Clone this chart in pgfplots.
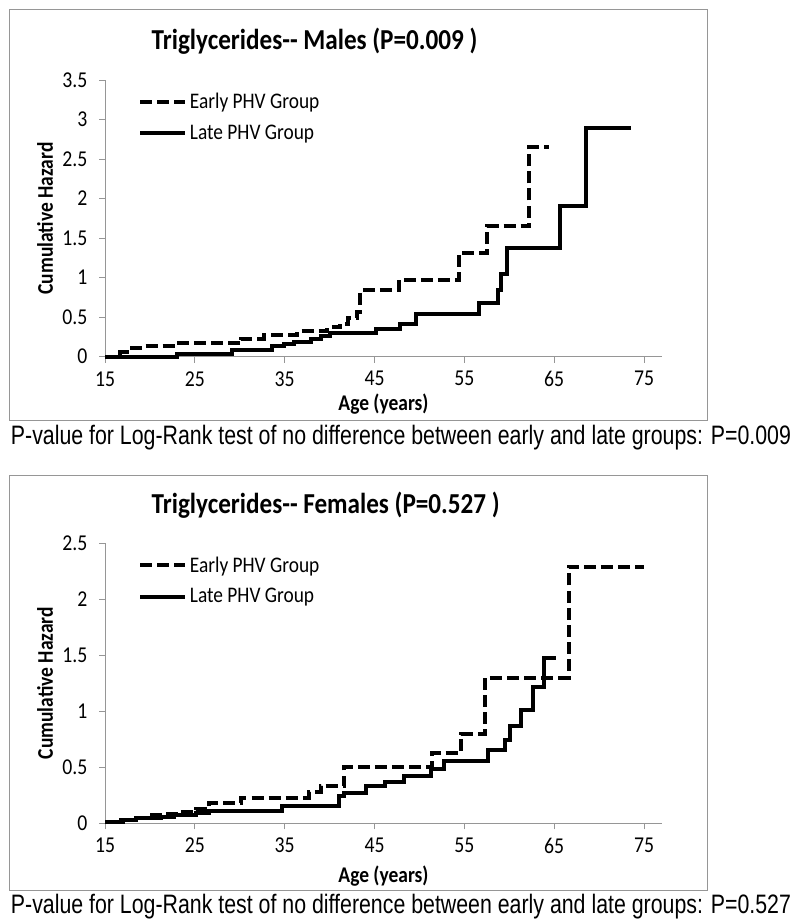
\documentclass[border=0pt]{standalone}
\usepackage{pgfplots}
\pgfplotsset{compat=1.18}
\usepackage{fontspec}
\setmainfont{Carlito}[FakeStretch=0.87]
\newfontfamily\arial{Liberation Sans}[FakeStretch=0.8]

\newdimen\px \px=0.75pt
\definecolor{axgray}{RGB}{150,150,150}
\definecolor{boxgray}{RGB}{150,150,150}

\pgfplotsset{
  early/.style={black, line width=3pt, const plot, mark=none, dash pattern=on 9pt off 3.8pt},
  late/.style={black, line width=3pt, const plot, mark=none},
  khaxis/.style={
    scale only axis, width=557\px, anchor=south west,
    xmin=15, xmax=77, ymin=0, clip=false,
    xtick={15,25,...,75},
    axis x line*=bottom, axis y line*=left,
    axis line style={axgray, line width=1\px, -},
    tick align=outside, major tick length=6\px,
    tick style={axgray, line width=1\px},
    ticklabel style={font=\fontsize{17}{20}\selectfont},
    xticklabel style={yshift=-4\px},
    yticklabel style={xshift=-7\px},
    /pgf/number format/assume math mode=true,
    xlabel={Age (years)},
    ylabel={Cumulative Hazard},
    label style={font=\bfseries\fontsize{16.8}{19}\selectfont},
    ylabel style={at={(axis description cs:-0.1077,0.5)}, anchor=center},
    legend style={draw=none, fill=none, font=\fontsize{16.7}{19}\selectfont,
      anchor=west, row sep=9\px},
    legend cell align=left,
    legend image code/.code={\draw[##1] (0pt,0pt) -- (45\px,0pt);},
  },
}

\begin{document}
\begin{tikzpicture}
\path[use as bounding box] (0,0) rectangle (800\px,-924\px);
\draw[boxgray, line width=1\px] (9\px,-10\px) rectangle (707\px,-420\px);
\draw[boxgray, line width=1\px] (9\px,-475\px) rectangle (707\px,-890\px);

% Males
\begin{axis}[khaxis, at={(105\px,-356.7\px)}, height=276.7\px,
  ymax=3.5, ytick={0,0.5,...,3.5},
  xlabel style={at={(axis description cs:0.5,-0.17)}, anchor=center},
  legend style={at={(axis description cs:0.052,0.865)}}]
\addplot[early] coordinates {(15,0) (16.7,0.06) (17.8,0.11) (19.5,0.135) (23.0,0.17)
  (30.1,0.23) (32.7,0.27) (36.4,0.32) (39.7,0.37) (41.2,0.42) (42.0,0.49) (43.1,0.57)
  (43.4,0.84) (47.7,0.97) (54.4,1.31) (57.5,1.65) (62.2,2.65) (64.4,2.65)};
\addplot[late] coordinates {(15,0) (23.0,0.03) (29.1,0.085) (33.6,0.13) (34.9,0.16)
  (36.0,0.19) (37.9,0.23) (39.0,0.26) (40.1,0.30) (45.2,0.35) (47.8,0.41) (49.6,0.54)
  (56.6,0.675) (58.8,0.84) (59.1,1.05) (59.8,1.38) (65.7,1.90) (68.5,2.89) (73.6,2.89)};
\legend{Early PHV Group, Late PHV Group}
\end{axis}

% Females
\begin{axis}[khaxis, at={(105\px,-823.3\px)}, height=280.3\px,
  ymax=2.5, ytick={0,0.5,...,2.5},
  xlabel style={at={(axis description cs:0.5,-0.19)}, anchor=center},
  legend style={at={(axis description cs:0.052,0.865)}}]
\addplot[early] coordinates {(15,0.015) (16.8,0.03) (18.3,0.045) (19.9,0.07) (22.0,0.08)
  (23.4,0.10) (25.1,0.13) (26.6,0.18) (30.1,0.23) (37.7,0.275) (39.0,0.33) (41.6,0.50)
  (51.4,0.63) (54.6,0.80) (57.3,1.30) (66.6,2.29) (75.0,2.29)};
\addplot[late] coordinates {(15,0.015) (17.0,0.03) (18.4,0.045) (21.2,0.06) (22.7,0.077)
  (25.1,0.09) (26.6,0.11) (34.7,0.15) (41.0,0.24) (41.6,0.27) (44.0,0.33) (46.2,0.37)
  (48.3,0.42) (51.3,0.48) (52.7,0.56) (57.6,0.65) (59.5,0.74) (60.1,0.87) (61.3,1.01)
  (62.6,1.22) (63.9,1.47) (65.2,1.47)};
\legend{Early PHV Group, Late PHV Group}
\end{axis}

\node[anchor=west, font=\bfseries\fontsize{21.7}{25}\selectfont] at (147\px,-41\px)
  {Triglycerides-{}- Males (P=0.009 )};
\node[anchor=west, font=\bfseries\fontsize{21.7}{25}\selectfont] at (147\px,-505\px)
  {Triglycerides-{}- Females (P=0.527 )};
\node[font=\arial\fontsize{20}{23}\selectfont] at (401\px,-438\px)
  {P-value for Log-Rank test of no difference between early and late groups: P=0.009};
\node[font=\arial\fontsize{20}{23}\selectfont] at (401\px,-907\px)
  {P-value for Log-Rank test of no difference between early and late groups: P=0.527};
\end{tikzpicture}
\end{document}
